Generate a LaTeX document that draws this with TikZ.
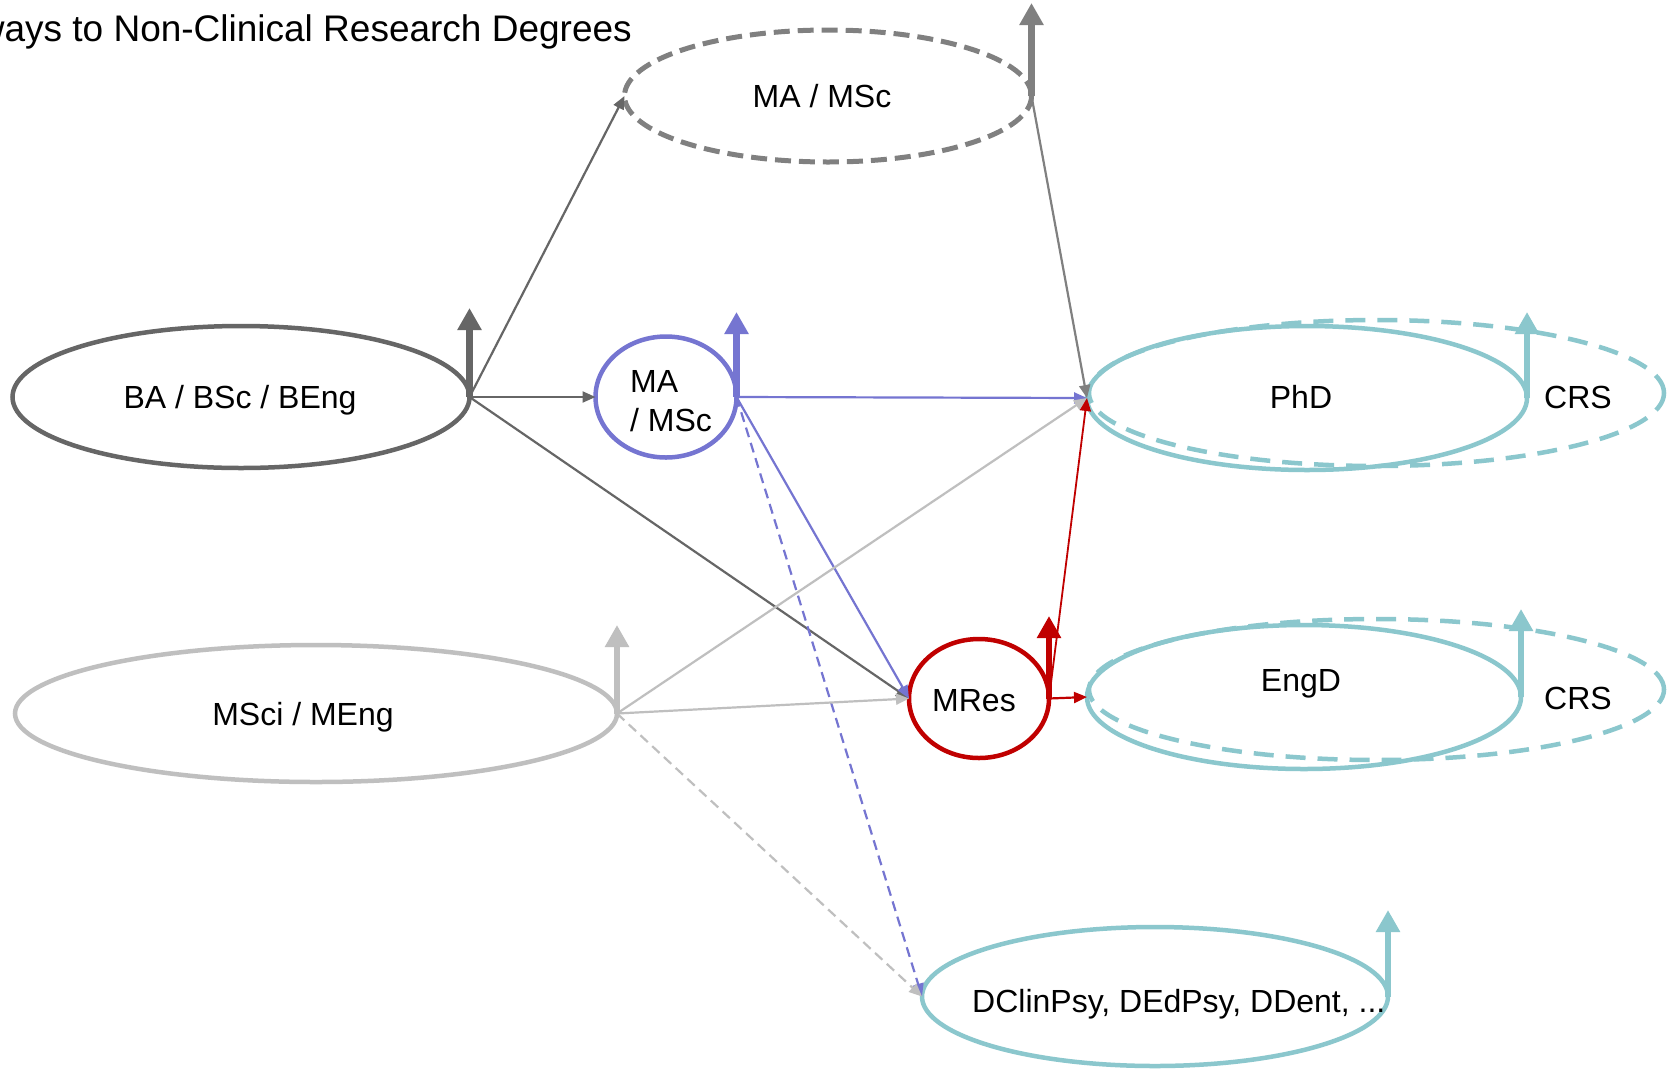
\documentclass[tikz,border=0pt]{standalone}
\usepackage{fontspec}
\setmainfont{Liberation Sans}
\usetikzlibrary{shapes.geometric,arrows.meta}
\definecolor{dkgray}{HTML}{666666}
\definecolor{mdgray}{HTML}{808080}
\definecolor{ltgray}{HTML}{BFBFBF}
\definecolor{lav}{HTML}{7575D1}
\definecolor{crimson}{HTML}{C00000}
\definecolor{tealc}{HTML}{8BC7CD}
\begin{document}
\begin{tikzpicture}[x=1pt,y=-1pt,
  oval/.style={ellipse, draw, line width=4.5pt, inner sep=0pt, outer sep=0pt},
  ovaldash/.style={oval, line width=5pt, dash pattern=on 16pt off 8pt},
  ovaldashb/.style={oval, dash pattern=on 20pt off 12pt},
  lbl/.style={anchor=base, inner sep=0pt, font=\fontsize{32}{38.4}\selectfont},
  conn/.style={line width=2.2pt, -{Triangle[length=13pt,width=11pt]}},
  conndash/.style={conn, dash pattern=on 10pt off 6pt},
  uparrow/.style={line width=6.5pt, -{Triangle[length=22pt,width=23pt]}},
]
\useasboundingbox (0,0) rectangle (1675,1069);
\clip (0,0) rectangle (1675,1069);
\fill[white] (0,0) rectangle (1675,1069);

% title
\node[anchor=base east, inner sep=0pt, font=\fontsize{37}{44}\selectfont] (title) at (632,41) {Pathways to Non-Clinical Research Degrees};

% ellipses
\node[ovaldash, draw=mdgray, minimum width=407pt, minimum height=132pt] (mad) at (828,96) {};
\node[oval, draw=dkgray, minimum width=457pt, minimum height=142pt] (ba) at (241,397) {};
\node[oval, draw=lav, minimum width=141pt, minimum height=121pt] (mac) at (666,397) {};
\node[ovaldashb, draw=tealc, minimum width=575pt, minimum height=146pt] (phdx) at (1376.5,393) {};
\node[oval, draw=tealc, minimum width=440pt, minimum height=144pt] (phd) at (1307,398) {};
\node[oval, draw=ltgray, minimum width=602pt, minimum height=137pt] (msci) at (316,713.5) {};
\node[oval, draw=crimson, minimum width=140pt, minimum height=119pt] (mres) at (979,698.5) {};
\node[ovaldashb, draw=tealc, minimum width=575pt, minimum height=141pt] (engdx) at (1376.5,689.5) {};
\node[oval, draw=tealc, minimum width=434pt, minimum height=144pt] (engd) at (1304,697) {};
\node[oval, draw=tealc, minimum width=466pt, minimum height=139pt] (dcp) at (1155,996.5) {};

% labels
\node[lbl] (madt) at (822,107.5) {MA / MSc};
\node[lbl] (bat) at (240,408.5) {BA / BSc / BEng};
\node[lbl, anchor=base west] (mact1) at (630,392.5) {MA};
\node[lbl, anchor=base west] (mact2) at (630,431.5) {/ MSc};
\node[lbl] (phdt) at (1301,408.5) {PhD};
\node[lbl] (crs1) at (1578,408.5) {CRS};
\node[lbl] (mscit) at (303,725.5) {MSci / MEng};
\node[lbl] (mrest) at (974,711) {MRes};
\node[lbl] (engdt) at (1301,691) {EngD};
\node[lbl] (crs2) at (1578,709.5) {CRS};
\node[lbl, anchor=base west] (dcpt) at (972,1012.5) {DClinPsy, DEdPsy, DDent, ...};

% connectors
\draw[conn, dkgray] (ba.east) -- (mad.west);
\draw[conn, dkgray] (ba.east) -- (mac.west);
\draw[conn, dkgray] (ba.east) -- (mres.west);
\draw[conn, mdgray] (mad.east) -- (phd.west);
\draw[conn, lav] (mac.east) -- (phd.west);
\draw[conn, lav] (mac.east) -- (mres.west);
\draw[conndash, lav] (mac.east) -- (dcp.west);
\draw[conn, ltgray] (msci.east) -- (phd.west);
\draw[conn, ltgray] (msci.east) -- (mres.west);
\draw[conndash, ltgray] (msci.east) -- (dcp.west);
\draw[conn, crimson, line width=1.8pt] (mres.east) -- (phd.west);
\draw[conn, crimson] (mres.east) -- (engd.west);

% up arrows
\coordinate (t0) at (0,3);
\coordinate (t1) at (0,308);
\coordinate (t2) at (0,312);
\coordinate (t3) at (0,625);
\coordinate (t4) at (0,616);
\coordinate (t5) at (0,609);
\coordinate (t6) at (0,910);
\draw[uparrow, mdgray] (mad.east) -- (mad.east |- t0);
\draw[uparrow, dkgray] (ba.east) -- (ba.east |- t1);
\draw[uparrow, lav] (mac.east) -- (mac.east |- t2);
\draw[uparrow, tealc] (phd.east) -- (phd.east |- t2);
\draw[uparrow, ltgray] (msci.east) -- (msci.east |- t3);
\draw[uparrow, crimson] (mres.east) -- (mres.east |- t4);
\draw[uparrow, tealc] (engd.east) -- (engd.east |- t5);
\draw[uparrow, tealc] (dcp.east) -- (dcp.east |- t6);
\end{tikzpicture}
\end{document}
